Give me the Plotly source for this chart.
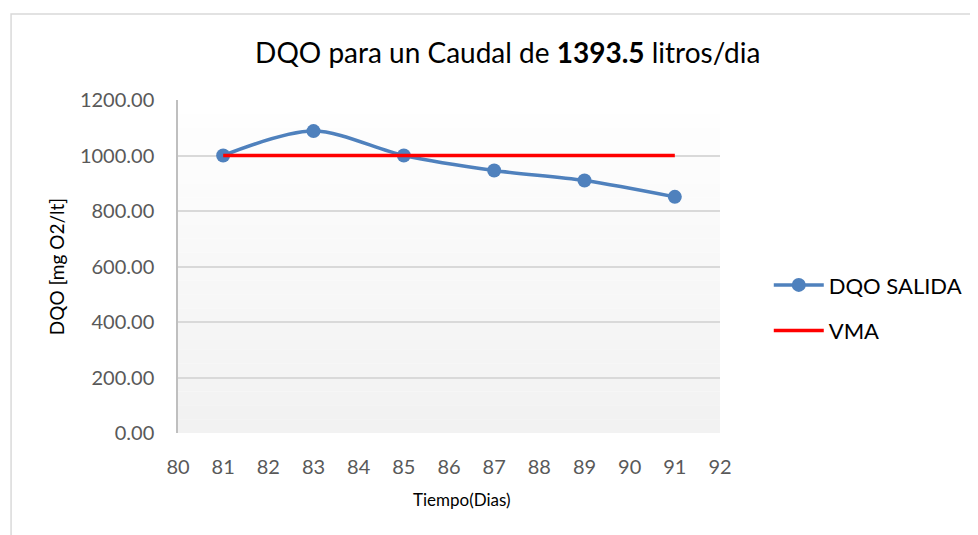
import plotly.graph_objects as go

# datos
dias = [81, 83, 85, 87, 89, 91]
dqo_salida = [1000, 1088, 1000, 946, 910, 851]
vma_dias = [81, 91]
vma = [1000, 1000]

font_name = "Lato"

fig = go.Figure()

fig.add_trace(go.Scatter(
    x=dias, y=dqo_salida, name="DQO SALIDA", mode="lines+markers",
    line=dict(color="#4F81BD", width=3.5, shape="spline", smoothing=0.9),
    marker=dict(color="#4F81BD", size=14),
    legendgroup="a",
))
fig.add_trace(go.Scatter(
    x=vma_dias, y=vma, name="VMA", mode="lines",
    line=dict(color="#FF0000", width=3.5),
    legendgroup="b",
))

# fondo degradado del area de grafico (blanco arriba, gris abajo)
bands = 24
shapes = []
for i in range(bands):
    t = i / (bands - 1)
    c = int(255 - 13 * (1 - t))
    shapes.append(dict(
        type="rect", xref="x domain", yref="y domain",
        x0=0, x1=1, y0=i / bands, y1=(i + 1) / bands,
        fillcolor=f"rgb({c},{c},{c})", line=dict(width=0), layer="below",
    ))
# borde del grafico
shapes.append(dict(
    type="rect", xref="paper", yref="paper",
    x0=-0.308, x1=1.55, y0=-0.4, y1=1.258,
    line=dict(color="#D9D9D9", width=1.5), fillcolor="rgba(0,0,0,0)",
))

fig.update_layout(
    width=978, height=535,
    margin=dict(l=170, r=266, t=92, b=110),
    paper_bgcolor="white",
    plot_bgcolor="white",
    shapes=shapes,
    title=dict(
        text="DQO para un Caudal de <b>1393.5</b> litros/dia",
        x=0.511, xanchor="center", y=0.915, yanchor="middle",
        font=dict(family=font_name, size=28, color="#000000"),
    ),
    font=dict(family=font_name),
    legend=dict(
        x=1.09, xanchor="left", y=0.375, yanchor="middle",
        font=dict(size=22, color="#000000"),
        itemwidth=50, tracegroupgap=14,
        bgcolor="rgba(0,0,0,0)",
    ),
    annotations=[dict(
        text="Tiempo(Dias)", xref="paper", yref="paper",
        x=0.524, y=-0.2, xanchor="center", yanchor="middle",
        showarrow=False, font=dict(size=17, color="#000000"),
    )],
    showlegend=True,
)

fig.update_xaxes(
    range=[80, 92], dtick=1, tick0=80,
    showgrid=False, zeroline=False,
    showline=False,
    ticks="", ticklabelstandoff=20,
    tickfont=dict(size=20, color="#595959"),
)
fig.update_yaxes(
    range=[0, 1200], dtick=200, tickformat=".2f",
    showgrid=True, gridcolor="#D9D9D9", gridwidth=1.5,
    zeroline=False, showline=True, linecolor="#BFBFBF", linewidth=1.5,
    ticks="", ticklabelstandoff=18,
    tickfont=dict(size=20, color="#595959"),
    title=dict(text="DQO [mg O2/lt]", font=dict(size=19, color="#000000"), standoff=10),
)

fig.write_html("out.html")
